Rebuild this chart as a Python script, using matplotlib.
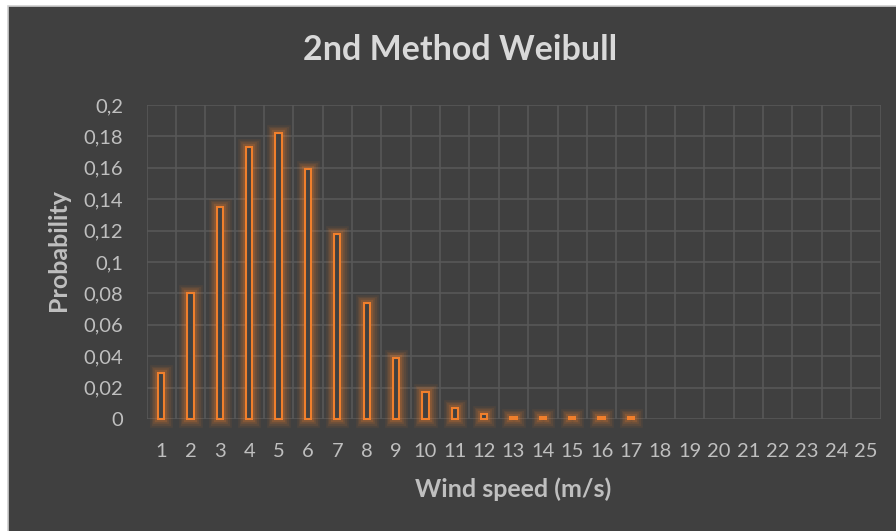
import matplotlib
matplotlib.use("Agg")
import matplotlib.pyplot as plt
import matplotlib.patheffects as pe
from matplotlib.patches import Rectangle

speeds = list(range(1, 26))
probs = [0.029, 0.0805, 0.135, 0.173, 0.182, 0.159, 0.118, 0.074, 0.039, 0.0174,
         0.0068, 0.003, 0.0015, 0.0012, 0.001, 0.001, 0.001,
         0, 0, 0, 0, 0, 0, 0, 0]
yticks = [0, 0.02, 0.04, 0.06, 0.08, 0.1, 0.12, 0.14, 0.16, 0.18, 0.2]
ylabels = ["0", "0,02", "0,04", "0,06", "0,08", "0,1", "0,12", "0,14", "0,16", "0,18", "0,2"]

bg = "#404040"
grid = "#595959"
text = "#BFBFBF"
orange = "#F07F2C"

plt.rcParams["font.family"] = ["Lato", "DejaVu Sans"]

W, H = 896, 531
fig = plt.figure(figsize=(W / 100, H / 100), dpi=100, facecolor="white")
fig.patches.append(Rectangle((7.5 / W, -0.02), 1.02, (H - 6) / H + 0.02,
                             transform=fig.transFigure, facecolor=bg,
                             edgecolor="#D0D0D0", linewidth=1.2, zorder=-1))

ax = fig.add_axes([146.5 / W, (H - 419) / H, 734 / W, 314 / H])
ax.set_facecolor(bg)
for s in ax.spines.values():
    s.set_visible(False)

ax.set_xlim(0.5, 25.5)
ax.set_ylim(0, 0.2)

# gridlines: horizontal at each tick, vertical at category boundaries
for y in yticks:
    ax.axhline(y, color=grid, lw=1.1, zorder=1)
for i in range(26):
    ax.axvline(0.5 + i, color=grid, lw=1.1, zorder=1)

# soft orange glow around each bar outline
glow = [pe.Stroke(linewidth=w, foreground=orange, alpha=a)
        for w, a in [(12, 0.07), (9.5, 0.09), (7, 0.12), (4.5, 0.18)]]
glow.append(pe.Normal())

bars = ax.bar(speeds, probs, width=0.215, facecolor=bg, edgecolor=orange,
              linewidth=1.5, zorder=3)
for b, p in zip(bars, probs):
    if p == 0:
        b.set_visible(False)
    b.set_path_effects(glow)
    b.set_clip_on(False)

ax.set_yticks(yticks)
ax.set_yticklabels(ylabels)
ax.set_xticks(speeds)
ax.set_xticklabels([str(s) for s in speeds])
ax.tick_params(length=0, colors=text, labelsize=14.5)
ax.tick_params(axis="y", pad=17)
ax.tick_params(axis="x", pad=17)

fig.text(460 / W, 1 - 50 / H, "2nd Method Weibull", ha="center", va="center",
         fontsize=24.5, fontweight="bold", color="#D9D9D9")
fig.text(513 / W, 1 - 489 / H, "Wind speed (m/s)", ha="center", va="center",
         fontsize=18, fontweight="bold", color=text)
fig.text(58 / W, 1 - 250 / H, "Probability", ha="center", va="center", rotation=90,
         fontsize=18, fontweight="bold", color=text)

fig.savefig("out.png", dpi=100, facecolor=fig.get_facecolor())
